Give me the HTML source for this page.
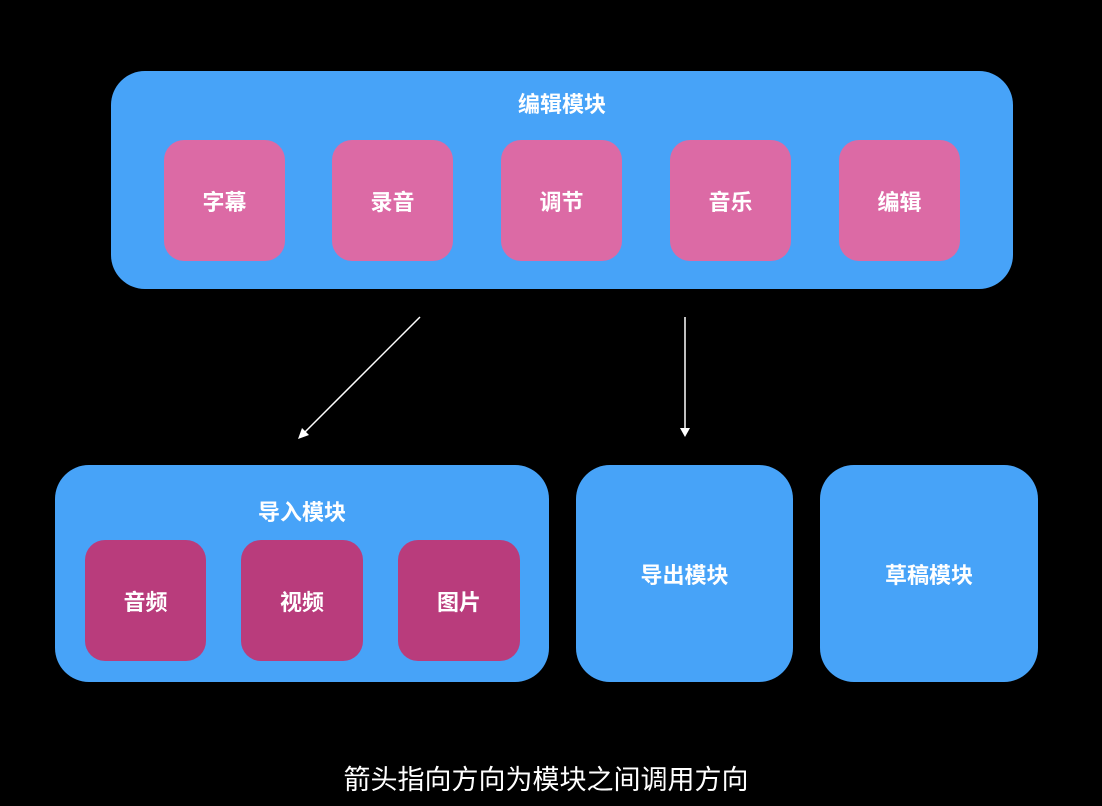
<!DOCTYPE html>
<html><head><meta charset="utf-8"><style>
body{margin:0;width:1102px;height:806px;background:#000;position:relative;overflow:hidden;font-family:"Liberation Sans","Noto Sans CJK SC",sans-serif;}
.b{position:absolute;background:#47a3f8;border-radius:34px;}
.s{position:absolute;width:121px;height:121px;border-radius:20px;background:#dc6aa5;color:#fff;font-weight:bold;font-size:22px;display:flex;align-items:center;justify-content:center;}
.d{background:#b93c7c;}
.t{position:absolute;color:#fff;font-weight:bold;font-size:22px;width:100%;text-align:center;left:0;}
.c{display:flex;align-items:center;justify-content:center;color:#fff;font-weight:bold;font-size:22px;}
</style></head><body>
<div class="b" style="left:111px;top:71px;width:902px;height:218px;"><div class="t" style="top:16px;">编辑模块</div></div>
<div class="s" style="left:164px;top:140px;">字幕</div>
<div class="s" style="left:332px;top:140px;">录音</div>
<div class="s" style="left:501px;top:140px;">调节</div>
<div class="s" style="left:670px;top:140px;">音乐</div>
<div class="s" style="left:839px;top:140px;">编辑</div>
<div class="b" style="left:55px;top:465px;width:494px;height:217px;"><div class="t" style="top:30px;left:0;width:494px;">导入模块</div></div>
<div class="s d" style="left:85px;top:540px;">音频</div>
<div class="s d" style="left:241px;top:540px;width:122px;">视频</div>
<div class="s d" style="left:398px;top:540px;width:122px;">图片</div>
<div class="b c" style="left:576px;top:465px;width:217px;height:217px;">导出模块</div>
<div class="b c" style="left:820px;top:465px;width:218px;height:217px;">草稿模块</div>
<svg style="position:absolute;left:0;top:0" width="1102" height="806">
<line x1="420" y1="317" x2="303" y2="434" stroke="#fff" stroke-width="1.5"/>
<polygon points="298,439 302,428 309,435" fill="#fff"/>
<line x1="685" y1="317" x2="685" y2="430" stroke="#fff" stroke-width="1.5"/>
<polygon points="680,428 690,428 685,437" fill="#fff"/>
</svg>
<div style="position:absolute;left:0;width:1092px;top:758px;text-align:center;color:#fff;font-size:27px;">箭头指向方向为模块之间调用方向</div>
</body></html>
